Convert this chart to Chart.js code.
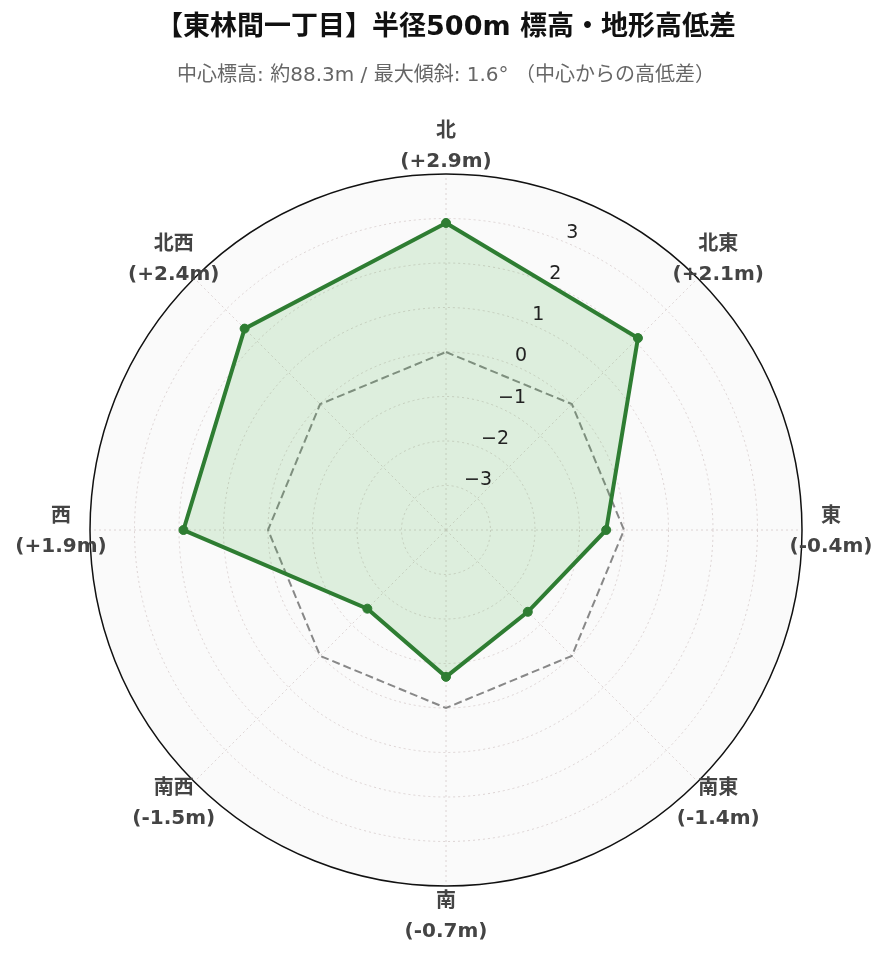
<!DOCTYPE html>
<html>
<head>
<meta charset="utf-8">
<script src="https://cdn.jsdelivr.net/npm/chart.js@4.4.1/dist/chart.umd.min.js"></script>
<style>
  html, body { margin: 0; padding: 0; background: #fff; }
  #wrap { width: 889px; height: 962px; }
</style>
</head>
<body>
<div id="wrap"><canvas id="elevChart"></canvas></div>
<script>
const directions = ["北", "北東", "東", "南東", "南", "南西", "西", "北西"];
const heightDiffs = [2.9, 2.1, -0.4, -1.4, -0.7, -1.5, 1.9, 2.4];
const zeroLine = [0, 0, 0, 0, 0, 0, 0, 0];
const tickValues = [-3, -2, -1, 0, 1, 2, 3];
const tickLabels = ["−3", "−2", "−1", "0", "1", "2", "3"];

const FONT = '"DejaVu Sans", "Noto Sans CJK JP", sans-serif';
const GRID = "rgba(215, 205, 205, 0.85)";

function diffLabel(v) {
  return "(" + (v > 0 ? "+" : "") + v.toFixed(1) + "m)";
}

// plotly-like decorations: disc background, outer ring, tilted tick labels, centred point labels
const polarDecor = {
  id: "polarDecor",
  beforeDraw(chart) {
    const s = chart.scales.r;
    const ctx = chart.ctx;
    ctx.save();
    ctx.beginPath();
    ctx.arc(s.xCenter, s.yCenter, s.drawingArea, 0, Math.PI * 2);
    ctx.fillStyle = "#fafafa";
    ctx.fill();
    ctx.restore();
  },
  afterDraw(chart) {
    const s = chart.scales.r;
    const ctx = chart.ctx;
    ctx.save();
    ctx.beginPath();
    ctx.arc(s.xCenter, s.yCenter, s.drawingArea, 0, Math.PI * 2);
    ctx.strokeStyle = "#111";
    ctx.lineWidth = 1.5;
    ctx.stroke();

    // radial tick labels along the 22.5° axis
    ctx.font = "19px " + FONT;
    ctx.fillStyle = "#222";
    ctx.textAlign = "left";
    ctx.textBaseline = "middle";
    tickValues.forEach((v, i) => {
      const p = s.getPointPosition(0.5, s.getDistanceFromCenterForValue(v));
      ctx.fillText(tickLabels[i], p.x + 1, p.y - 9);
    });

    // direction labels
    ctx.font = "bold 20px " + FONT;
    ctx.fillStyle = "#444";
    ctx.textAlign = "center";
    directions.forEach((d, i) => {
      const p = s.getPointPosition(i, s.drawingArea + 29);
      ctx.fillText(d, p.x, p.y - 13);
      ctx.fillText(diffLabel(heightDiffs[i]), p.x, p.y + 17);
    });
    ctx.restore();
  }
};

new Chart(document.getElementById("elevChart"), {
  type: "radar",
  data: {
    labels: directions,
    datasets: [
      {
        label: "高低差",
        data: heightDiffs,
        borderColor: "#2e7d32",
        backgroundColor: "rgba(76, 175, 80, 0.17)",
        borderWidth: 4,
        pointRadius: 4.5,
        pointBorderWidth: 1,
        pointBackgroundColor: "#2e7d32",
        pointBorderColor: "#2e7d32",
        fill: "start"
      },
      {
        label: "基準 (0m)",
        data: zeroLine,
        borderColor: "#888",
        borderWidth: 2,
        borderDash: [8, 4],
        pointRadius: 0,
        fill: false
      }
    ]
  },
  plugins: [polarDecor],
  options: {
    responsive: true,
    maintainAspectRatio: false,
    animation: false,
    layout: { padding: { left: 90, right: 87, top: 0, bottom: 76 } },
    plugins: {
      legend: { display: false },
      tooltip: { enabled: false },
      title: {
        display: true,
        text: "【東林間一丁目】半径500m 標高・地形高低差",
        color: "#111",
        font: { family: FONT, size: 27, weight: "bold" },
        padding: { top: 12, bottom: 10 }
      },
      subtitle: {
        display: true,
        text: "中心標高: 約88.3m / 最大傾斜: 1.6° （中心からの高低差）",
        color: "#666",
        font: { family: FONT, size: 20 },
        padding: { top: 9.6, bottom: 86 }
      }
    },
    scales: {
      r: {
        min: -4,
        max: 4,
        ticks: { display: false, stepSize: 1 },
        pointLabels: { display: false },
        grid: {
          circular: true,
          color: (c) => (c.tick && c.tick.value === 4 ? "rgba(0,0,0,0)" : GRID),
          lineWidth: 1
        },
        border: { dash: [2, 3] },
        angleLines: {
          color: GRID,
          lineWidth: 1,
          borderDash: [2, 3]
        }
      }
    }
  }
});
</script>
</body>
</html>
